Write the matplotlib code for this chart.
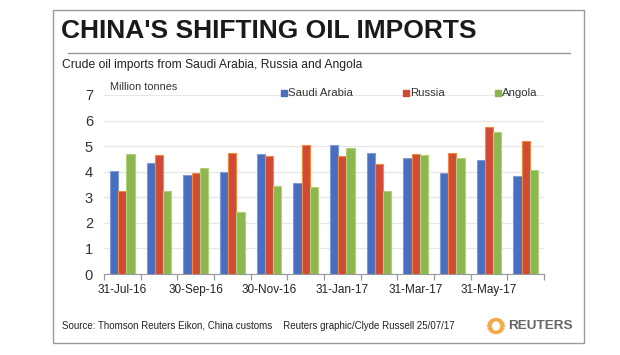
import matplotlib
matplotlib.use("Agg")
import matplotlib.pyplot as plt
from matplotlib.patches import Rectangle, Circle
from matplotlib.lines import Line2D
import numpy as np

months = ["31-Jul-16", "31-Aug-16", "30-Sep-16", "31-Oct-16", "30-Nov-16", "31-Dec-16",
          "31-Jan-17", "28-Feb-17", "31-Mar-17", "30-Apr-17", "31-May-17", "30-Jun-17"]
saudi = [4.02, 4.36, 3.89, 3.97, 4.71, 3.55, 5.03, 4.75, 4.53, 3.94, 4.44, 3.84]
russia = [3.25, 4.65, 3.95, 4.74, 4.62, 5.05, 4.61, 4.31, 4.70, 4.74, 5.75, 5.22]
angola = [4.69, 3.25, 4.15, 2.43, 3.44, 3.39, 4.93, 3.25, 4.66, 4.54, 5.54, 4.08]
series_names = ["Saudi Arabia", "Russia", "Angola"]
yticks = [0, 1, 2, 3, 4, 5, 6, 7]

W, H = 620, 355
fig = plt.figure(figsize=(6.2, 3.55), dpi=100)
fig.patch.set_facecolor("white")
FONT = ["Liberation Sans", "DejaVu Sans"]
plt.rcParams["font.family"] = FONT

def fx(px):
    return px / W

def fy(py):
    return 1 - py / H

# outer frame
fig.add_artist(Rectangle((fx(53), fy(343)), fx(584) - fx(53), fy(10) - fy(343),
                         transform=fig.transFigure, fill=False, edgecolor="#9a9a9a", lw=1.0))
# title
fig.text(fx(61), fy(30.5), "CHINA'S SHIFTING OIL IMPORTS", fontsize=19, fontweight="bold",
         color="#1a1a1a", va="center", ha="left")
fig.add_artist(Line2D([fx(68), fx(570)], [fy(53), fy(53)], transform=fig.transFigure,
                      color="#9a9a9a", lw=1.0))
fig.text(fx(62), fy(65), "Crude oil imports from Saudi Arabia, Russia and Angola",
         fontsize=8.7, color="#222222", va="center", ha="left")

ax = fig.add_axes([fx(104), fy(274), fx(544) - fx(104), fy(95) - fy(274)])
x = np.arange(len(months))
w = 0.227
colors = ["#4A6EBF", "#D04A36", "#8DB650"]
edges = ["#7f9cd6", "#F08A3C", "#b2d07a"]
for i, (vals, c, e) in enumerate(zip([saudi, russia, angola], colors, edges)):
    ax.bar(x + (i - 1) * w, vals, width=w, color=c, edgecolor=e, linewidth=0.8, zorder=3)

ax.set_xlim(-0.5, len(months) - 0.5)
ax.set_ylim(0, 7)
ax.set_yticks(yticks)
ax.set_yticklabels([str(t) for t in yticks], fontsize=10.5, color="#333333")
ax.tick_params(axis="y", length=0, pad=8)
ax.yaxis.grid(True, color="#e6e6e6", lw=0.9, zorder=0)
ax.set_xticks(x[::2])
ax.set_xticklabels(months[::2], fontsize=8.5, color="#222222")
ax.set_xticks(np.arange(-0.5, len(months), 1), minor=True)
ax.tick_params(axis="x", which="major", length=0, pad=7)
ax.tick_params(axis="x", which="minor", length=4, color="#999999", width=0.9, direction="out")
for s in ["top", "right", "left"]:
    ax.spines[s].set_visible(False)
ax.spines["bottom"].set_color("#999999")
ax.set_facecolor("white")

fig.text(fx(110), fy(87), "Million tonnes", fontsize=7.8, color="#333333", va="center", ha="left")
leg_x = [284, 406, 498]
for lx, name, c in zip(leg_x, series_names, colors):
    fig.add_artist(Rectangle((fx(lx - 3), fy(96)), fx(6), fy(90) - fy(96),
                             transform=fig.transFigure, color=c))
    fig.text(fx(lx + 4), fy(93), name, fontsize=8.2, color="#333333", va="center", ha="left")

fig.text(fx(62), fy(326), "Source: Thomson Reuters Eikon, China customs    Reuters graphic/Clyde Russell 25/07/17",
         fontsize=7.0, color="#222222", va="center", ha="left")
# Reuters logo
cx, cy = 496, 326
for ang in np.linspace(0, 2 * np.pi, 14, endpoint=False):
    r = 6.5
    px, py = cx + r * np.cos(ang), cy + r * np.sin(ang)
    fig.add_artist(Circle((fx(px), fy(py)), 0.0032, transform=fig.transFigure,
                          color="#F2A33A", alpha=0.8))
fig.text(fx(508), fy(326), "REUTERS", fontsize=9.7, fontweight="bold", color="#666666",
         va="center", ha="left")

fig.savefig("out.png", dpi=100, facecolor="white")
